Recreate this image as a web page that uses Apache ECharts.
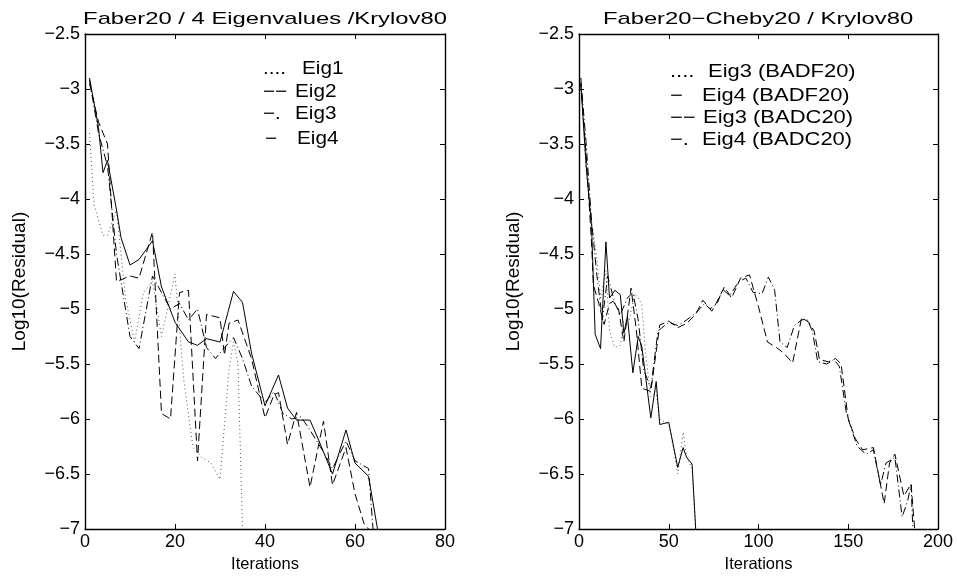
<!DOCTYPE html>
<html><head><meta charset="utf-8">
<script src="https://cdn.jsdelivr.net/npm/echarts@6/dist/echarts.min.js"></script>
<style>html,body{margin:0;padding:0;background:#fff}#c{width:958px;height:578px}</style>
</head><body><div id="c"></div>
<script>
// ---- Left panel data: Faber20 / 4 Eigenvalues / Krylov80 ----
const leftTitle = 'Faber20 / 4 Eigenvalues /Krylov80';
const leftXTicks = [0, 20, 40, 60, 80];
const eig1 = [[1,-3.4],[2,-4.05],[4,-4.33],[5,-4.33],[7,-4.1],[9,-4.9],[11,-5.3],[13,-4.85],[15,-4.75],[17,-5.25],[20,-4.68],[22,-5.66],[24,-6.26],[26,-6.35],[28,-6.4],[30,-6.55],[32,-5.55],[33,-5.3],[34,-5.5],[35,-7.0]];
const eig2 = [[1,-2.95],[3,-3.3],[5,-3.5],[7,-4.75],[10,-4.7],[12,-4.72],[15,-4.3],[17,-5.95],[19,-6.0],[21,-4.85],[23,-4.83],[25,-6.38],[27,-5.05],[30,-5.08],[31,-5.42],[32,-5.13],[34,-5.1],[37,-5.45],[40,-5.99],[42,-5.78],[43,-5.76],[45,-6.23],[47,-5.94],[50,-6.62],[53,-6.02],[55,-6.6],[58,-6.26],[60,-6.68],[62,-6.95],[63,-7.0]];
const eig3 = [[1,-2.92],[3,-3.4],[5,-3.7],[7,-4.5],[10,-5.25],[12,-5.36],[15,-4.7],[17,-4.85],[19,-5.0],[21,-4.95],[23,-5.1],[25,-5.0],[27,-5.35],[29,-5.45],[31,-5.35],[33,-5.26],[35,-5.45],[37,-5.7],[40,-5.85],[42,-5.75],[44,-5.95],[46,-6.0],[48,-5.98],[50,-6.1],[53,-6.3],[55,-6.45],[58,-6.2],[60,-6.38],[63,-6.45],[64,-7.0]];
const eig4 = [[1,-2.9],[3,-3.35],[4,-3.76],[5,-3.65],[7,-4.1],[8,-4.35],[10,-4.6],[12,-4.55],[15,-4.38],[17,-4.8],[20,-5.12],[23,-5.3],[25,-5.33],[27,-5.27],[30,-5.3],[33,-4.84],[35,-4.94],[37,-5.4],[40,-5.88],[43,-5.6],[45,-5.9],[47,-6.01],[50,-6.01],[52,-6.2],[55,-6.5],[58,-6.1],[60,-6.4],[63,-6.52],[65,-7.0]];
const leftLegend = [['....', 'Eig1'], ['\u2212\u2212', 'Eig2'], ['\u2212.', 'Eig3'], ['\u2212', 'Eig4']];

// ---- Right panel data: Faber20-Cheby20 / Krylov80 ----
const rightTitle = 'Faber20\u2212Cheby20 / Krylov80';
const rightXTicks = [0, 50, 100, 150, 200];
const eig3F = [[1,-2.9],[4,-3.75],[7,-4.2],[10,-4.55],[12,-4.9],[15,-4.65],[17,-5.2],[20,-5.35],[23,-5.33],[25,-5.1],[28,-5.1],[31,-4.86],[33,-4.9],[35,-4.96],[37,-5.4],[40,-5.8],[43,-5.75],[45,-6.0],[48,-6.03],[50,-6.05],[53,-6.3],[55,-6.5],[58,-6.12],[60,-6.35],[63,-6.45],[65,-7.0]];
const eig4F = [[1,-2.95],[4,-3.7],[7,-4.25],[9,-5.23],[12,-5.36],[15,-4.39],[17,-4.9],[20,-4.83],[23,-4.87],[25,-5.22],[27,-5.07],[30,-5.58],[33,-5.25],[35,-5.34],[40,-5.99],[43,-5.66],[45,-6.05],[50,-6.03],[55,-6.44],[58,-6.26],[60,-6.35],[63,-6.41],[65,-7.0]];
const eig3C = [[1,-2.95],[4,-3.6],[7,-4.4],[8,-4.78],[11,-4.95],[14,-5.14],[17,-4.95],[19,-4.93],[22,-5.0],[25,-5.3],[29,-4.81],[32,-5.2],[35,-5.72],[40,-5.75],[45,-5.145],[50,-5.11],[55,-5.17],[60,-5.13],[65,-5.05],[69,-4.92],[74,-5.02],[77,-4.93],[81,-4.8],[85,-4.9],[90,-4.72],[95,-4.69],[100,-4.98],[105,-5.3],[110,-5.35],[114,-5.4],[119,-5.49],[124,-5.08],[128,-5.12],[131,-5.2],[134,-5.46],[139,-5.48],[143,-5.45],[146,-5.5],[150,-6.0],[154,-6.18],[158,-6.28],[164,-6.26],[170,-6.77],[173,-6.4],[176,-6.32],[181,-6.7],[185,-6.59],[187,-7.0]];
const eig4C = [[1,-2.9],[4,-3.5],[7,-4.2],[10,-4.7],[13,-5.1],[16,-4.7],[20,-4.95],[23,-5.05],[27,-4.9],[30,-4.85],[33,-5.1],[36,-5.55],[40,-5.72],[44,-5.2],[50,-5.12],[55,-5.15],[60,-5.1],[66,-5.02],[70,-4.95],[73,-5.0],[77,-4.95],[80,-4.82],[84,-4.88],[89,-4.75],[93,-4.72],[97,-4.85],[102,-4.86],[105.5,-4.71],[109,-4.83],[112,-5.3],[116,-5.35],[120,-5.15],[124,-5.1],[127,-5.09],[130,-5.2],[133,-5.48],[138,-5.5],[142,-5.46],[145,-5.52],[149,-5.95],[155,-6.25],[160,-6.32],[164,-6.28],[168,-6.6],[171,-6.4],[176,-6.35],[180,-6.89],[183,-6.75],[185,-6.6],[186,-7.0]];
const rightLegend = [['....', 'Eig3 (BADF20)'], ['\u2212', 'Eig4 (BADF20)'], ['\u2212\u2212', 'Eig3 (BADC20)'], ['\u2212.', 'Eig4 (BADC20)']];

const yMin = -7, yMax = -2.5, yStep = 0.5;
const yName = 'Log10(Residual)';
const xName = 'Iterations';

const FONT = 'Liberation Sans, Arial, Helvetica, sans-serif';
const fmt = v => String(v).replace('-', '\u2212');

const grids = [
  {left: 85, top: 34, width: 360, height: 498},
  {left: 579, top: 34, width: 359, height: 498}
];
const xMax = [leftXTicks[leftXTicks.length-1], rightXTicks[rightXTicks.length-1]];
const xInt = [leftXTicks[1]-leftXTicks[0], rightXTicks[1]-rightXTicks[0]];

const AX = {color:'#000', width:1.4};
const xAxes = [], yAxes = [];
[0,1].forEach(g => {
  xAxes.push({type:'value', gridIndex:g, position:'bottom', min:0, max:xMax[g], interval:xInt[g],
    axisLine:{show:true, onZero:false, lineStyle:AX},
    axisTick:{inside:true, length:5, lineStyle:{color:'#000'}},
    axisLabel:{color:'#000', fontFamily:FONT, fontSize:18, margin:4, formatter:fmt},
    splitLine:{show:false},
    name:xName, nameLocation:'middle', nameGap:27, nameTextStyle:{color:'#000', fontFamily:FONT, fontSize:16.5}});
  xAxes.push({type:'value', gridIndex:g, position:'top', min:0, max:xMax[g], interval:xInt[g],
    axisLine:{show:true, onZero:false, lineStyle:AX},
    axisTick:{inside:true, length:5, lineStyle:{color:'#000'}},
    axisLabel:{show:false}, splitLine:{show:false}});
  yAxes.push({type:'value', gridIndex:g, position:'left', min:yMin, max:yMax, interval:yStep,
    axisLine:{show:true, onZero:false, lineStyle:AX},
    axisTick:{inside:true, length:5, lineStyle:{color:'#000'}},
    axisLabel:{color:'#000', fontFamily:FONT, fontSize:18, margin:5, formatter:fmt},
    splitLine:{show:false},
    name:yName, nameLocation:'middle', nameGap:56, nameRotate:90, nameTextStyle:{color:'#000', fontFamily:FONT, fontSize:19}});
  yAxes.push({type:'value', gridIndex:g, position:'right', min:yMin, max:yMax, interval:yStep,
    axisLine:{show:true, onZero:false, lineStyle:AX},
    axisTick:{inside:true, length:5, lineStyle:{color:'#000'}},
    axisLabel:{show:false}, splitLine:{show:false}});
});

const styles = {
  dot: {type:[1,3], color:'#555', width:1},
  dash: {type:[8,4], color:'#000', width:1},
  dashdot: {type:[8,3,1,3], color:'#000', width:1},
  solid: {type:'solid', color:'#000', width:1}
};
function mk(name, data, style, g){
  return {type:'line', name, data, xAxisIndex:g*2, yAxisIndex:g*2, showSymbol:false, symbol:'none',
    lineStyle:styles[style], itemStyle:{color:styles[style].color}, clip:true, silent:true, animation:false};
}
const series = [
  mk('Eig1', eig1, 'dot', 0), mk('Eig2', eig2, 'dash', 0), mk('Eig3', eig3, 'dashdot', 0), mk('Eig4', eig4, 'solid', 0),
  mk('Eig3 (BADF20)', eig3F, 'dot', 1), mk('Eig4 (BADF20)', eig4F, 'solid', 1), mk('Eig3 (BADC20)', eig3C, 'dash', 1), mk('Eig4 (BADC20)', eig4C, 'dashdot', 1)
];

const graphic = [];
const txt = (x, y, s, size, sx, align) => ({type:'text', x:x, y:y, scaleX:sx, silent:true,
  style:{text:s, fill:'#000', font:size + 'px ' + FONT, textAlign:align||'left', textVerticalAlign:'middle', verticalAlign:'middle'}});
// titles
graphic.push(txt(265, 19, leftTitle, 17, 1.4, 'center'));
graphic.push(txt(758, 19, rightTitle, 17, 1.4, 'center'));
// legend texts (MATLAB-style text legends)
const leftRows = [69, 92, 114, 139];
const leftMarkX = [263, 263, 263, 265], leftTextX = [302, 295, 295, 297];
leftLegend.forEach((r,i) => { graphic.push(txt(leftMarkX[i], leftRows[i], r[0], 18, 1.15)); graphic.push(txt(leftTextX[i], leftRows[i], r[1], 18, 1.15)); });
const rightRows = [72, 96, 118, 140];
const rightTextX = [708, 702, 703, 702];
rightLegend.forEach((r,i) => { graphic.push(txt(670, rightRows[i], r[0], 18, 1.22)); graphic.push(txt(rightTextX[i], rightRows[i], r[1], 18, 1.22)); });

const chart = echarts.init(document.getElementById('c'), null, {renderer:'canvas'});
chart.setOption({
  animation:false,
  backgroundColor:'#fff',
  grid:grids,
  xAxis:xAxes,
  yAxis:yAxes,
  series,
  graphic
});
</script></body></html>
